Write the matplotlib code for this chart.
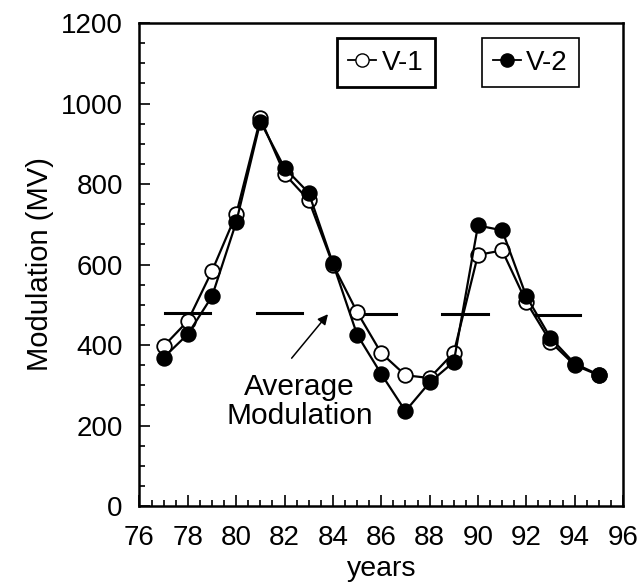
import numpy as np
import matplotlib.pyplot as plt
from matplotlib.lines import Line2D
from matplotlib.ticker import MultipleLocator

plt.rcParams['font.family'] = ['Liberation Sans', 'DejaVu Sans']

# DATA
years = [77, 78, 79, 80, 81, 82, 83, 84, 85, 86, 87, 88, 89, 90, 91, 92, 93, 94, 95]
v1 = [397, 460, 584, 725, 963, 825, 760, 600, 482, 380, 325, 318, 381, 624, 635, 507, 408, 350, 325]  # MV
v2 = [369, 427, 521, 705, 955, 840, 778, 603, 426, 328, 236, 307, 358, 697, 685, 521, 418, 354, 326]  # MV

# average modulation segments (start year, end year, level)
avg_start = [77.05, 80.85, 84.77, 88.5, 92.35]
avg_end = [78.9, 82.73, 86.6, 90.4, 94.23]
avg_level = [480, 479, 477, 476, 475]

fig = plt.figure(figsize=(6.39, 5.83), dpi=100)
ax = fig.add_axes([0.2183, 0.132, 0.7567, 0.8285])

ax.plot(years, v1, '-o', color='black', mfc='white', mec='black', ms=10.5, mew=1.3, lw=1.6, zorder=3)
ax.plot(years, v2, '-o', color='black', mfc='black', mec='black', ms=10.5, mew=1.3, lw=1.6, zorder=4)

for i in range(len(avg_level)):
    ax.plot([avg_start[i], avg_end[i]], [avg_level[i], avg_level[i]], color='black', lw=2.2, zorder=2)

ax.annotate('', xy=(83.87, 482), xytext=(82.22, 362),
            arrowprops=dict(arrowstyle='-|>', color='black', lw=1.1, mutation_scale=15))
ax.text(82.63, 259, 'Average\nModulation', ha='center', va='center', fontsize=21.5, linespacing=1.06)

ax.set_xlim(76, 96)
ax.set_ylim(0, 1200)
ax.xaxis.set_major_locator(MultipleLocator(2))
ax.xaxis.set_minor_locator(MultipleLocator(0.5))
ax.yaxis.set_major_locator(MultipleLocator(200))
ax.yaxis.set_minor_locator(MultipleLocator(50))
ax.tick_params(which='both', direction='in', width=1.2, labelsize=20)
ax.tick_params(which='major', length=8)
ax.tick_params(which='minor', length=4)
ax.tick_params(axis='y', which='major', pad=12)
ax.tick_params(axis='x', which='major', pad=13.5)
for s in ax.spines.values():
    s.set_linewidth(1.8)

ax.set_xlabel('years', fontsize=20.5, labelpad=4)
ax.set_ylabel('Modulation (MV)', fontsize=21, labelpad=5)

# two separate legend boxes
h1 = Line2D([], [], color='black', marker='o', mfc='white', mec='black', ms=9.5, lw=1.3)
h2 = Line2D([], [], color='black', marker='o', mfc='black', mec='black', ms=9.5, lw=1.3)
leg1 = ax.legend([h1], ['V-1'], loc='upper left', bbox_to_anchor=(0.409, 0.968), borderaxespad=0,
                 fontsize=20, handlelength=1.0, handletextpad=0.2, borderpad=0.4,
                 fancybox=False, framealpha=1, edgecolor='black')
leg1.get_frame().set_linewidth(2.0)
ax.add_artist(leg1)
leg2 = ax.legend([h2], ['V-2'], loc='upper left', bbox_to_anchor=(0.708, 0.968), borderaxespad=0,
                 fontsize=20, handlelength=1.0, handletextpad=0.2, borderpad=0.4,
                 fancybox=False, framealpha=1, edgecolor='black')
leg2.get_frame().set_linewidth(1.2)

plt.savefig('out.png', dpi=100)
